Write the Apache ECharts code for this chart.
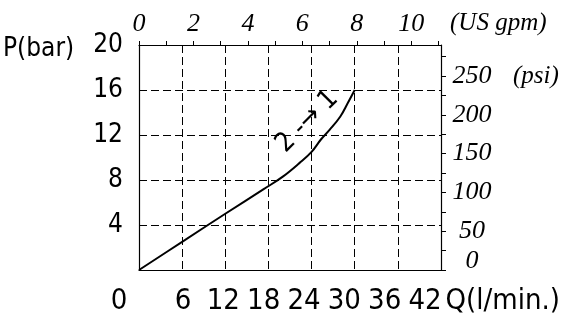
<!DOCTYPE html>
<html>
<head>
<meta charset="utf-8">
<script src="https://cdn.jsdelivr.net/npm/echarts@6/dist/echarts.min.js"></script>
<style>
  html, body { margin: 0; padding: 0; background: #fff; }
  #chart { width: 564px; height: 320px; }
</style>
</head>
<body>
<div id="chart"></div>
<script>
// curve: flow Q (l/min) -> pressure P (bar)
const qFlow = [0, 6, 12, 17.5, 20, 22.3, 24, 25.3, 26.5, 28, 29, 30];
const pBar = [0, 2.5, 5.0, 7.25, 8.3, 9.5, 10.5, 11.6, 12.45, 13.65, 14.8, 16];

// tick labels
const qTicks = [6, 12, 18, 24, 30, 36, 42];
const pTicks = [4, 8, 12, 16, 20];
const gpmLabels = [0, 2, 4, 6, 8, 10];
const psiLabels = [0, 50, 100, 150, 200, 250];

const annotation = '2 -\u2192 1';

// unit conversions for the secondary scales
const LPM_PER_GPM = 3.78541;
const PSI_PER_BAR = 14.5038;

const sans = '"Liberation Sans Narrow", "DejaVu Sans Condensed", "Liberation Sans", sans-serif';
const serif = '"Liberation Serif", "DejaVu Serif", serif';

const dash = { color: '#000', width: 1, type: [8, 4] };

var dom = document.getElementById('chart');
var myChart = echarts.init(dom);

var option = {
  animation: false,
  grid: [
    { left: 139, right: 123, top: 45, bottom: 50 },
    // strip that only carries the Q labels under the plot
    { left: 183, right: 139, top: 280, bottom: 19 }
  ],
  xAxis: [
    { // main Q axis: grid lines + bottom border
      type: 'value', gridIndex: 0, position: 'bottom',
      min: 0, max: qTicks[qTicks.length - 1], interval: 6,
      axisLine: { show: true, lineStyle: { color: '#000', width: 1.2 } },
      axisTick: { show: false },
      axisLabel: { show: false },
      splitLine: { show: true, lineStyle: dash }
    },
    { // US gpm on top
      type: 'value', gridIndex: 0, position: 'top',
      min: 0, max: qTicks[qTicks.length - 1] / LPM_PER_GPM, interval: 1,
      axisLine: { show: true, onZero: false, lineStyle: { color: '#000', width: 1.2 } },
      axisTick: { show: true, inside: false, length: 4, lineStyle: { color: '#000' } },
      axisLabel: {
        show: true, margin: 8, color: '#000',
        fontFamily: serif, fontStyle: 'italic', fontSize: 26,
        showMaxLabel: false,
        formatter: v => gpmLabels.indexOf(v) >= 0 ? String(v) : ''
      },
      splitLine: { show: false },
      name: '(US gpm)', nameLocation: 'end', nameGap: 9,
      nameTextStyle: {
        color: '#000', fontFamily: serif, fontStyle: 'italic', fontSize: 25,
        align: 'left', verticalAlign: 'bottom', padding: [0, 0, 9, 0]
      }
    },
    { // Q labels
      type: 'value', gridIndex: 1, position: 'bottom',
      min: qTicks[0], max: qTicks[qTicks.length - 1], interval: 6,
      axisLine: { show: false },
      axisTick: { show: false },
      splitLine: { show: false },
      axisLabel: {
        show: true, margin: 0, verticalAlign: 'middle', color: '#000',
        fontFamily: sans, fontSize: 29,
        formatter: v => qTicks.indexOf(v) >= 0 ? String(v) : ''
      },
      name: 'Q(l/min.)', nameLocation: 'end', nameGap: 18,
      nameTextStyle: {
        color: '#000', fontFamily: sans, fontSize: 29,
        align: 'left', verticalAlign: 'middle'
      }
    }
  ],
  yAxis: [
    { // P bar, left
      type: 'value', gridIndex: 0, position: 'left',
      min: 0, max: pTicks[pTicks.length - 1], interval: 4,
      axisLine: { show: true, lineStyle: { color: '#000', width: 1.2 } },
      axisTick: { show: false },
      axisLabel: {
        show: true, margin: 16, color: '#000',
        fontFamily: sans, fontSize: 26,
        formatter: v => pTicks.indexOf(v) >= 0 ? String(v) : ''
      },
      splitLine: { show: true, lineStyle: dash }
    },
    { // psi, right
      type: 'value', gridIndex: 0, position: 'right',
      min: 0, max: pTicks[pTicks.length - 1] * PSI_PER_BAR, interval: 25,
      axisLine: { show: true, onZero: false, lineStyle: { color: '#000', width: 1.2 } },
      axisTick: { show: true, inside: false, length: 5, lineStyle: { color: '#000' } },
      axisLabel: {
        show: true, margin: 10, align: 'left', color: '#000',
        showMaxLabel: false,
        formatter: function (v) {
          if (psiLabels.indexOf(v) < 0) return '';
          if (v === 0) return '{z|0}';
          if (v === psiLabels[psiLabels.length - 1]) return '{c|' + v + '}{p|(psi)}';
          return '{c|' + v + '}';
        },
        rich: {
          c: { width: 42, align: 'center', fontFamily: serif, fontStyle: 'italic', fontSize: 26, color: '#000' },
          z: { width: 42, align: 'center', fontFamily: serif, fontStyle: 'italic', fontSize: 26, color: '#000', padding: [0, 0, 18, 0] },
          p: { fontFamily: serif, fontStyle: 'italic', fontSize: 25, color: '#000', padding: [0, 0, 0, 20] }
        }
      },
      splitLine: { show: false }
    },
    { type: 'value', gridIndex: 1, show: false, min: 0, max: 1 }
  ],
  series: [
    {
      type: 'line',
      xAxisIndex: 0, yAxisIndex: 0,
      data: qFlow.map((q, i) => [q, pBar[i]]),
      symbol: 'none',
      smooth: 0.4,
      lineStyle: { color: '#000', width: 2 },
      z: 5
    }
  ]
};
myChart.setOption(option);

// text pinned to the curve (data coords) and loose labels
var at = myChart.convertToPixel({ xAxisIndex: 0, yAxisIndex: 0 }, [23.4, 13.2]);
myChart.setOption({
  graphic: [
    {
      type: 'text', x: 3, y: 49,
      style: { text: 'P(bar)', fill: '#000', font: '26px ' + sans, verticalAlign: 'middle' }
    },
    {
      type: 'text', x: 119, y: 301,
      style: { text: '0', fill: '#000', font: '29px ' + sans, align: 'center', verticalAlign: 'middle' }
    },
    {
      type: 'text', x: at[0], y: at[1], rotation: Math.PI / 4,
      style: { text: annotation, fill: '#000', font: '27px ' + sans, align: 'center', verticalAlign: 'middle' }
    }
  ]
});
</script>
</body>
</html>
